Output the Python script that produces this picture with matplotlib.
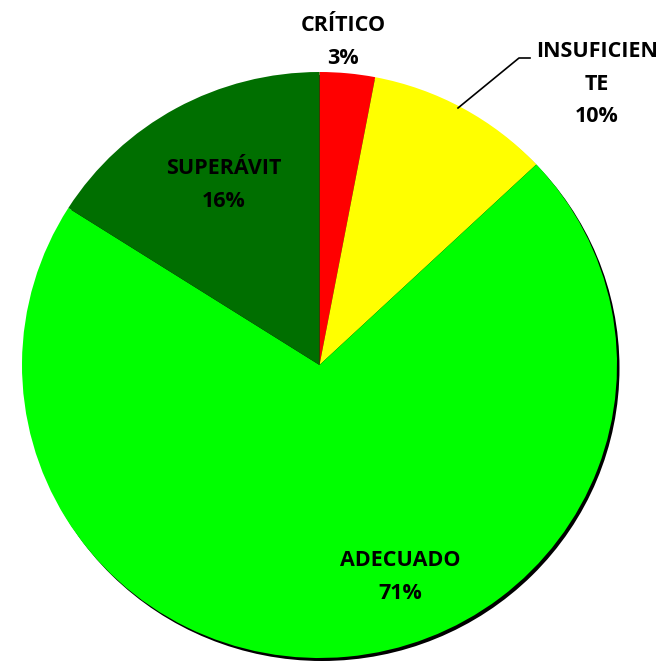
import matplotlib
matplotlib.use("Agg")
from matplotlib import pyplot as plt
from matplotlib.patches import Ellipse

categorias = ["CRÍTICO", "INSUFICIENTE", "ADECUADO", "SUPERÁVIT"]
etiquetas = ["CRÍTICO", "INSUFICIEN\nTE", "ADECUADO", "SUPERÁVIT"]
valores = [3, 10, 71, 16]
colores = ["#FF0000", "#FFFF00", "#00FF00", "#006F00"]

W, H = 664, 663
cx, cy = 319.5, 365.0   # centro en pixeles
rx, ry = 297.5, 293.0   # radios en pixeles

fig = plt.figure(figsize=(W / 100, H / 100), dpi=100)
ax = fig.add_axes([0, 0, 1, 1])

wedges, _ = ax.pie(valores, colors=colores, startangle=90, counterclock=False,
                   radius=1, wedgeprops=dict(linewidth=0))
ax.set_aspect("auto")
ax.set_xlim((0 - cx) / rx, (W - cx) / rx)
ax.set_ylim((cy - H) / ry, cy / ry)

# sombra negra abajo a la derecha
sombra = Ellipse((2.5 / rx, -3.0 / ry), 2, 2, facecolor="black", linewidth=0, zorder=0)
ax.add_patch(sombra)
for w in wedges:
    w.set_zorder(1)

def px(x, y):
    return x / W, 1 - y / H

fuente = dict(family="Open Sans", fontweight="bold", fontsize=15.5, color="black",
              ha="center", va="center", linespacing=1.72)

pos = [(343, 42), (597, 84), (400, 577), (224, 185)]
for et, v, (x, y) in zip(etiquetas, valores, pos):
    fig.text(*px(x, y), f"{et}\n{v}%", **fuente)

# linea guia de INSUFICIENTE
xs = [458, 519, 530]
ys = [108, 58, 58]
fig.add_artist(plt.Line2D([x / W for x in xs], [1 - y / H for y in ys],
                          color="black", linewidth=1.2))

fig.savefig("out.png", dpi=100, facecolor="white")
